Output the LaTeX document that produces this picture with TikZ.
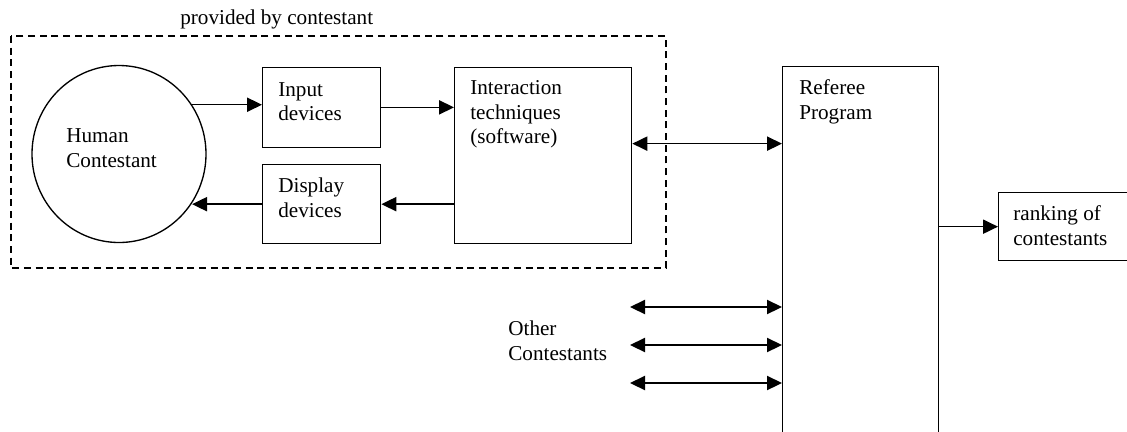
\documentclass[tikz,border=0pt]{standalone}
\usepackage{fontspec}
\setmainfont{Liberation Serif}
\usetikzlibrary{arrows.meta,shapes.geometric,calc}

\begin{document}
\begin{tikzpicture}[x=0.6pt,y=-0.6pt,
  >={Triangle[length=9pt,width=8.5pt]},
  every node/.style={font=\fontsize{12.7pt}{14.7pt}\selectfont},
  blk/.style={draw,line width=0.8pt,inner sep=0pt,anchor=north west},
  txt/.style={anchor=base west,align=left,inner sep=0pt},
  conn/.style={line width=0.9pt}]
\useasboundingbox (0,0) rectangle (1127,431);

% part provided by the contestant
\draw[line width=1.2pt,dash pattern=on 4.2pt off 2.8pt] (11,36) rectangle (666,268);
\node (provtxt) [txt] at (180,24) {provided by contestant};

\node (human) [draw,ellipse,line width=0.8pt,inner sep=0pt,minimum width=104.4pt,minimum height=106.2pt] at (119,154) {};
\node (humantxt) [txt] at (66,167) {Human\\Contestant};

\node (input) [blk,minimum width=70.8pt,minimum height=48pt] at (262,66.7) {};
\node (inputtxt) [txt] at (278,120.5) {Input\\devices};
\node (disp) [blk,minimum width=70.8pt,minimum height=47.4pt] at (262,164) {};
\node (disptxt) [txt] at (278,217) {Display\\devices};
\node (inter) [blk,minimum width=106.2pt,minimum height=105.8pt] at (454,66.7) {};
\node (intertxt) [txt] at (470,143.5) {Interaction\\techniques\\(software)};

% referee and result
\node (ref) [blk,minimum width=93.6pt,minimum height=227.4pt] at (782,66) {};
\node (reftxt) [txt] at (799,119) {Referee\\Program};
\node (rank) [blk,minimum width=82.2pt,minimum height=40.8pt] at (998,192) {};
\node (ranktxt) [txt] at (1013,245) {ranking of\\contestants};
\node (othertxt) [txt] at (508,360) {Other\\Contestants};

% connectors
\draw[conn,->] (human.34) -- (human.34 -| input.west);
\draw[conn,->] (input.east) -- (input.east -| inter.west);
\draw[conn,->] (disp.east -| inter.west) -- (disp.east);
\draw[conn,->] (disp.west) -- (disp.west -| human.-34);
\coordinate (ia) at ($(inter.north east)!0.433!(inter.south east)$);
\draw[conn,<->] (ia) -- (ia -| ref.west);
\draw[conn,->] (ref.east |- rank.west) -- (rank.west);
\foreach \y [count=\i] in {307,345,383} {
  \coordinate (oc\i) at (630,\y);
  \draw[conn,<->] (oc\i) -- (oc\i -| ref.west);
}
\end{tikzpicture}
\end{document}
